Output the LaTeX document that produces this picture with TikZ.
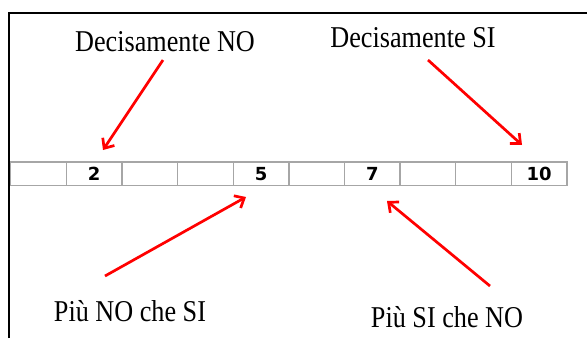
\documentclass[tikz,border=0pt]{standalone}
\usepackage{fontspec}
\usepackage{tikz}
\usepackage{xcolor}
\usetikzlibrary{arrows.meta}
\setmainfont{Liberation Serif}
\newfontfamily\cellfont{DejaVu Sans}
\definecolor{cellgray}{HTML}{A6A6A6}
\definecolor{arrowred}{HTML}{FF0000}
\newcommand{\talltext}[1]{\scalebox{0.97}[1.12]{#1}}
\tikzstyle{scalecell} =[
    draw=cellgray,
    line width=1.3pt,
    rectangle,
    minimum width=55.6pt,
    minimum height=23.7pt,
    inner sep=0pt,
    font=\cellfont\bfseries\fontsize{18}{18}\selectfont
    ]
\tikzstyle{answer} =[
    font=\fontsize{27}{27}\selectfont,
    inner sep=0pt,
    anchor=base
    ]
\tikzstyle{pointer} =[
    draw=arrowred,
    line width=2.7pt,
    -{Straight Barb[length=8pt,width=14pt]}
    ]

\begin{document}
\begin{tikzpicture}[x=1pt,y=-1pt]
\useasboundingbox (0,0) rectangle (587,338);
% frame, cut at the right and at the bottom
\draw[line width=2.4pt] (8.7,338) -- (8.7,12.8) -- (587,12.8);
% the scale from 1 to 10
\foreach \i/\lab in {0/,1/2,2/,3/,4/5,5/,6/7,7/,8/,9/10}
    \node[scalecell] (cell\i) at (38.6+55.62*\i,173.8) {\raisebox{-1.5pt}{\lab}};
% the answers
\node[answer] (dno) at (165,51) {\talltext{Decisamente NO}};
\node[answer] (dsi) at (413,47) {\talltext{Decisamente SI}};
\node[answer] (pno) at (130,321) {\talltext{Più NO che SI}};
\node[answer] (psi) at (447,327) {\talltext{Più SI che NO}};
% arrow ends
\coordinate (dnoTail) at (163,60);
\coordinate (dnoTip) at (103,150);
\coordinate (dsiTail) at (428,60);
\coordinate (dsiTip) at (522,145);
\coordinate (pnoTail) at (105,276);
\coordinate (pnoTip) at (246,197);
\coordinate (psiTail) at (490,286);
\coordinate (psiTip) at (387,201);
\draw[pointer] (dnoTail) -- (dnoTip);
\draw[pointer] (dsiTail) -- (dsiTip);
\draw[pointer] (pnoTail) -- (pnoTip);
\draw[pointer] (psiTail) -- (psiTip);
\end{tikzpicture}
\end{document}
